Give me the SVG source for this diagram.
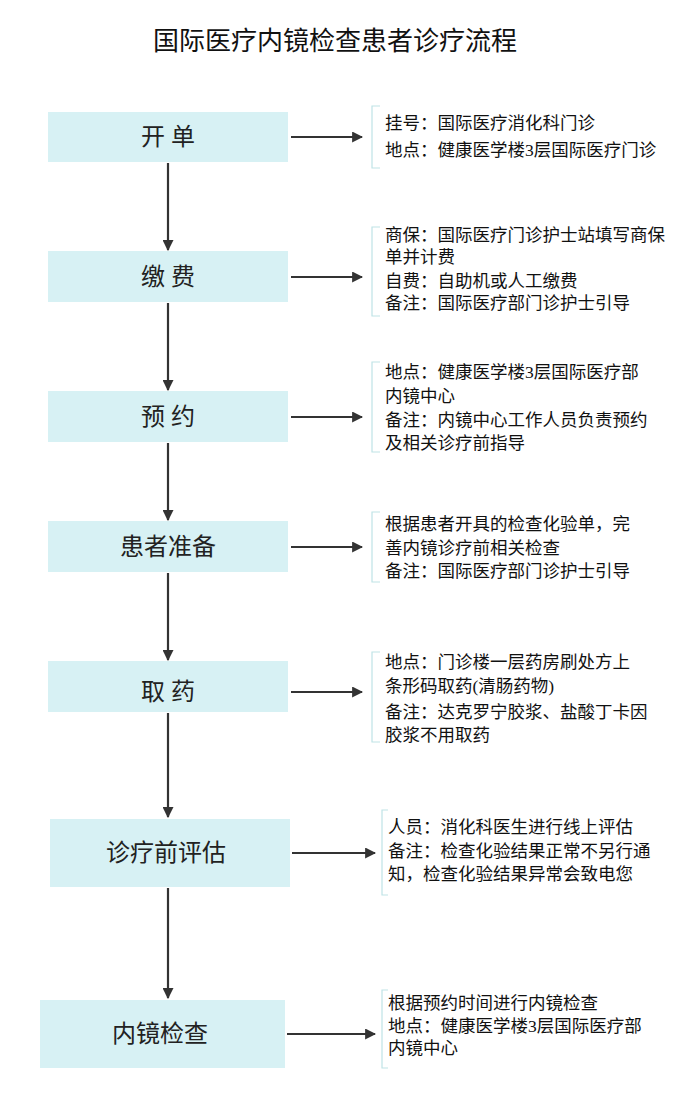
<svg xmlns="http://www.w3.org/2000/svg" width="700" height="1097" viewBox="0 0 700 1097">
<style>
.box{fill:#d7f1f4}
.lbl{font-family:"Liberation Serif","Noto Sans CJK SC",serif;font-size:24px;fill:#222;text-anchor:middle}
.t{font-family:"Liberation Serif","Noto Sans CJK SC",serif;font-size:17.5px;fill:#111}
.br{fill:none;stroke:#bfe3e6;stroke-width:1.2}
.c{stroke:#333;stroke-width:2.2;fill:none;marker-end:url(#a)}
</style>
<defs><marker id="a" viewBox="0 0 10 10" refX="9" refY="5" markerWidth="5" markerHeight="5" orient="auto" markerUnits="strokeWidth"><path d="M0,0L10,5L0,10z" fill="#333"/></marker></defs>
<rect width="700" height="1097" fill="#fff"/>
<text x="335" y="50" style="font-family:'Liberation Serif','Noto Sans CJK SC',serif;font-size:26px;fill:#111" text-anchor="middle">国际医疗内镜检查患者诊疗流程</text>
<g id="connectors">
<path class="c" d="M168,163V250"/><path class="c" d="M168,303V390"/><path class="c" d="M168,443V520"/><path class="c" d="M168,573V660"/><path class="c" d="M168,713V817"/><path class="c" d="M168,888V998"/>
<path class="c" d="M291,137H362"/><path class="c" d="M291,277H362"/><path class="c" d="M291,417H362"/><path class="c" d="M291,547H362"/><path class="c" d="M291,692H362"/><path class="c" d="M292,853H375"/><path class="c" d="M287,1034H375"/>
</g>
<g id="n1"><rect class="box" x="48" y="112" width="240" height="50"/><text class="lbl" x="168" y="145">开 单</text></g>
<g id="n2"><rect class="box" x="48" y="251" width="240" height="51"/><text class="lbl" x="168" y="285">缴 费</text></g>
<g id="n3"><rect class="box" x="48" y="391" width="240" height="51"/><text class="lbl" x="168" y="425">预 约</text></g>
<g id="n4"><rect class="box" x="48" y="521" width="240" height="51"/><text class="lbl" x="168" y="555">患者准备</text></g>
<g id="n5"><rect class="box" x="48" y="661" width="240" height="51"/><text class="lbl" x="168" y="700">取 药</text></g>
<g id="n6"><rect class="box" x="50" y="819" width="240" height="68"/><text class="lbl" x="166" y="861">诊疗前评估</text></g>
<g id="n7"><rect class="box" x="40" y="1000" width="245" height="68"/><text class="lbl" x="160" y="1042">内镜检查</text></g>
<g id="d1"><path class="br" d="M380,106H372V168H380"/><text class="t" x="385" y="129">挂号：国际医疗消化科门诊</text><text class="t" x="385" y="156">地点：健康医学楼3层国际医疗门诊</text></g>
<g id="d2"><path class="br" d="M380,227H372V316H380"/><text class="t" x="385" y="241">商保：国际医疗门诊护士站填写商保</text><text class="t" x="385" y="263">单并计费</text><text class="t" x="385" y="287">自费：自助机或人工缴费</text><text class="t" x="385" y="309">备注：国际医疗部门诊护士引导</text></g>
<g id="d3"><path class="br" d="M380,362H372V452H380"/><text class="t" x="385" y="378">地点：健康医学楼3层国际医疗部</text><text class="t" x="385" y="402">内镜中心</text><text class="t" x="385" y="426">备注：内镜中心工作人员负责预约</text><text class="t" x="385" y="449">及相关诊疗前指导</text></g>
<g id="d4"><path class="br" d="M380,512H372V582H380"/><text class="t" x="385" y="530">根据患者开具的检查化验单，完</text><text class="t" x="385" y="554">善内镜诊疗前相关检查</text><text class="t" x="385" y="577">备注：国际医疗部门诊护士引导</text></g>
<g id="d5"><path class="br" d="M380,652H372V742H380"/><text class="t" x="385" y="668">地点：门诊楼一层药房刷处方上</text><text class="t" x="385" y="692">条形码取药(清肠药物)</text><text class="t" x="385" y="718">备注：达克罗宁胶浆、盐酸丁卡因</text><text class="t" x="385" y="741">胶浆不用取药</text></g>
<g id="d6"><path class="br" d="M388,810H382V895H388"/><text class="t" x="388" y="833">人员：消化科医生进行线上评估</text><text class="t" x="388" y="857">备注：检查化验结果正常不另行通</text><text class="t" x="388" y="880">知，检查化验结果异常会致电您</text></g>
<g id="d7"><path class="br" d="M388,990H382V1068H388"/><text class="t" x="388" y="1009">根据预约时间进行内镜检查</text><text class="t" x="388" y="1032">地点：健康医学楼3层国际医疗部</text><text class="t" x="388" y="1054">内镜中心</text></g>
</svg>
